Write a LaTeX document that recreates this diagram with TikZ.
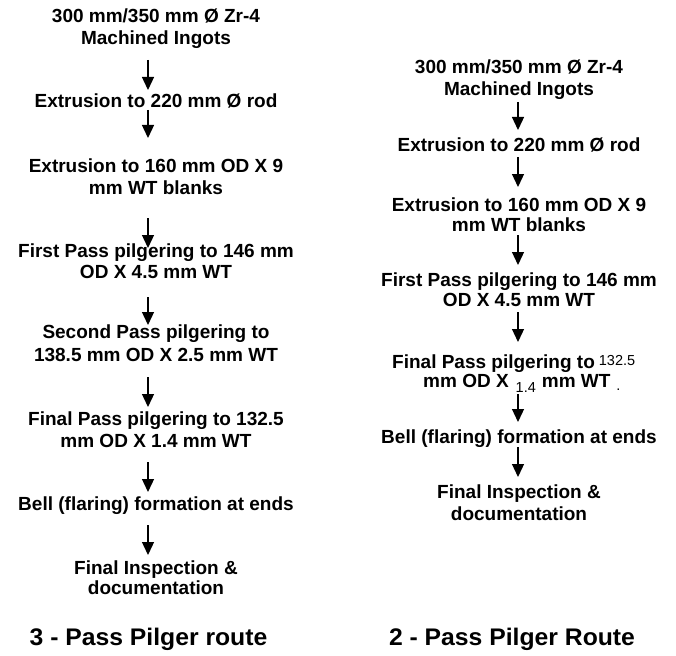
\documentclass[tikz,border=0pt]{standalone}
\usepackage{fontspec}
\setmainfont{Liberation Sans}
\usetikzlibrary{arrows.meta}
\tikzset{
  txt/.style={anchor=base, inner sep=0pt, font=\bfseries\fontsize{19}{21}\selectfont},
  txtw/.style={anchor=base west, inner sep=0pt, font=\bfseries\fontsize{19}{21}\selectfont},
  ttl/.style={anchor=base, inner sep=0pt, font=\bfseries\fontsize{24}{28}\selectfont},
  flow/.style={line width=1.3pt, -{Triangle[width=12pt,length=13pt]}}
}
\newcommand{\smallnum}[1]{{\fontsize{14.5}{16}\selectfont\mdseries #1}}
\begin{document}
\begin{tikzpicture}[x=1pt,y=-1pt]
\useasboundingbox (0,0) rectangle (676,655);
% ---------- left column: 3-pass route ----------
\node[txt] (L1a) at (156,23) {300 mm/350 mm Ø Zr-4};
\node[txt] (L1b) at (156,45) {Machined Ingots};
\node[txt] (L2)  at (156,108) {Extrusion to 220 mm Ø rod};
\node[txt] (L3a) at (156,172) {Extrusion to 160 mm OD X 9};
\node[txt] (L3b) at (156,194) {mm WT blanks};
\node[txt] (L4a) at (156,257) {First Pass pilgering to 146 mm};
\node[txt] (L4b) at (156,278) {OD X 4.5 mm WT};
\node[txt] (L5a) at (156,338) {Second Pass pilgering to};
\node[txt] (L5b) at (156,361) {138.5 mm OD X 2.5 mm WT};
\node[txt] (L6a) at (156,425) {Final Pass pilgering to 132.5};
\node[txt] (L6b) at (156,447) {mm OD X 1.4 mm WT};
\node[txt] (L7)  at (156,510) {Bell (flaring) formation at ends};
\node[txt] (L8a) at (156,574) {Final Inspection \&};
\node[txt] (L8b) at (156,594) {documentation};
\node[ttl, xscale=1.03] (LT) at (148.5,645.5) {3 - Pass Pilger route};

\coordinate (la1) at (148,60);  \coordinate (lb1) at (148,90);
\coordinate (la2) at (148,110); \coordinate (lb2) at (148,138);
\coordinate (la3) at (148,218); \coordinate (lb3) at (148,248);
\coordinate (la4) at (148,297); \coordinate (lb4) at (148,325);
\coordinate (la5) at (148,377); \coordinate (lb5) at (148,407);
\coordinate (la6) at (148,462); \coordinate (lb6) at (148,492);
\coordinate (la7) at (148,525); \coordinate (lb7) at (148,555);
\foreach \i in {1,...,7} \draw[flow] (la\i) -- (lb\i);

% ---------- right column: 2-pass route ----------
\node[txt] (R1a) at (519,74) {300 mm/350 mm Ø Zr-4};
\node[txt] (R1b) at (519,96) {Machined Ingots};
\node[txt] (R2)  at (519,151) {Extrusion to 220 mm Ø rod};
\node[txt] (R3a) at (519,211) {Extrusion to 160 mm OD X 9};
\node[txt] (R3b) at (519,231) {mm WT blanks};
\node[txt] (R4a) at (519,286) {First Pass pilgering to 146 mm};
\node[txt] (R4b) at (519,306) {OD X 4.5 mm WT};
\node[txtw] (R5a) at (392,368) {Final Pass pilgering to\hspace{4pt}\raisebox{3pt}{\smallnum{132.5}}};
\node[txtw] (R5b) at (423,387) {mm OD X\hspace{7pt}\raisebox{-5pt}{\smallnum{1.4}}\hspace{6pt}mm WT\hspace{6pt}\raisebox{-3pt}{\smallnum{.}}};
\node[txt] (R6)  at (519,443) {Bell (flaring) formation at ends};
\node[txt] (R7a) at (519,498) {Final Inspection \&};
\node[txt] (R7b) at (519,520) {documentation};
\node[ttl, xscale=1.03] (RT) at (512,645.5) {2 - Pass Pilger Route};

\coordinate (ra1) at (518,102); \coordinate (rb1) at (518,130);
\coordinate (ra2) at (518,157); \coordinate (rb2) at (518,187);
\coordinate (ra3) at (518,235); \coordinate (rb3) at (518,265);
\coordinate (ra4) at (518,312); \coordinate (rb4) at (518,342);
\coordinate (ra5) at (518,394); \coordinate (rb5) at (518,422);
\coordinate (ra6) at (518,447); \coordinate (rb6) at (518,477);
\foreach \i in {1,...,6} \draw[flow] (ra\i) -- (rb\i);
\end{tikzpicture}
\end{document}
